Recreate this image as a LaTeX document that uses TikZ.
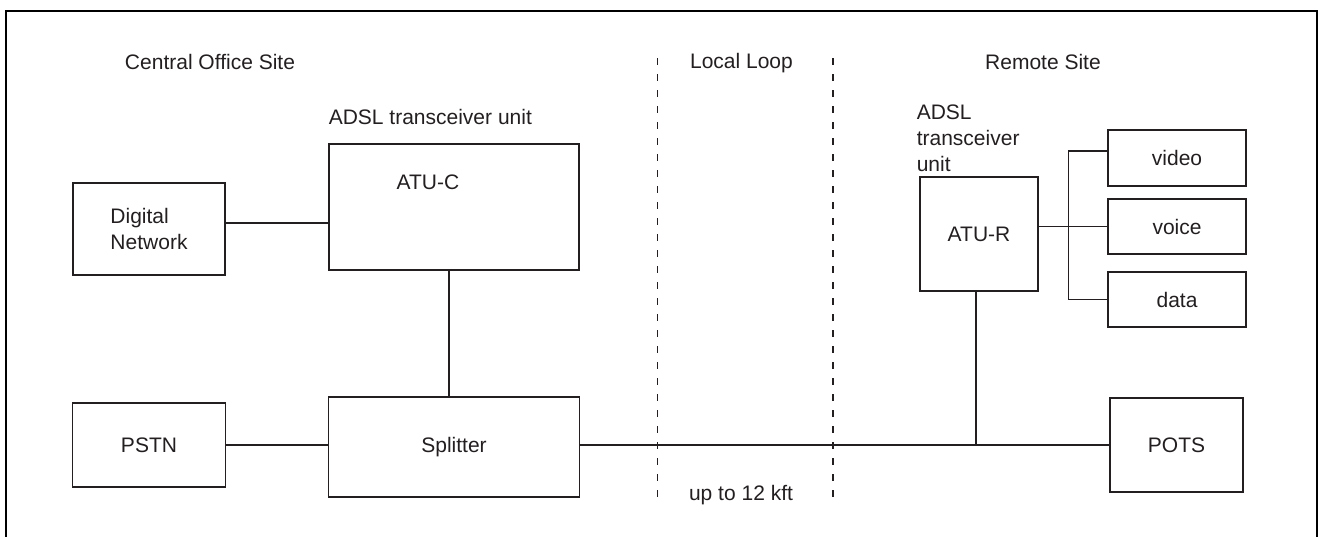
\documentclass[tikz,border=0pt]{standalone}
\usepackage{fontspec}
\setmainfont{Liberation Sans}
\usepackage{tikz}
\usetikzlibrary{shapes.geometric, arrows, positioning}
\definecolor{ink}{HTML}{231F20}
\tikzstyle{block} = [rectangle, draw=ink, line width=0.6pt, text=ink,
 align=center, inner sep=0pt]
\tikzstyle{wire} = [draw=ink, line width=0.6pt]
\tikzstyle{loopedge} = [draw=ink, line width=0.6pt, dash pattern=on 3.5pt off 4.5pt]
\tikzstyle{tag} = [text=ink, inner sep=0pt]
\tikzstyle{sheet} = [draw=black, line width=1pt]

\begin{document}
\begin{tikzpicture}[node distance=152.5pt, font=\fontsize{10.5}{13}\selectfont]
\useasboundingbox (0,0) rectangle (660.5pt,-268pt);
\draw[sheet] (3pt,-280pt) -- (3pt,-5.5pt) -- (658.5pt,-5.5pt) -- (658.5pt,-280pt);
\node(dn) [block, minimum width=76pt, minimum height=46pt, align=left] at (74.5pt,-114.5pt) {Digital\\Network};
\node(atuc) [block, minimum width=125pt, minimum height=63pt, right of=dn, yshift=11pt] {};
\node(atuctext) [tag, xshift=-13pt, yshift=12.5pt] at (atuc) {ATU-C};
\node(pstn) [block, minimum width=76.5pt, minimum height=42pt, below of=dn, node distance=108pt] {PSTN};
\node(splitter) [block, minimum width=125.5pt, minimum height=50pt, right of=pstn, yshift=-1pt] {Splitter};
\node(pots) [block, minimum width=66.5pt, minimum height=47pt, right of=splitter, xshift=208.75pt, yshift=1pt] {POTS};
\node(atur) [block, minimum width=59pt, minimum height=57pt, right of=atuc, xshift=110pt, yshift=-13.5pt] {ATU-R};
\node(voice) [block, minimum width=69pt, minimum height=27.5pt, right of=atur, xshift=-53.5pt, yshift=3.75pt] {voice};
\node(video) [block, minimum width=69pt, minimum height=28pt, above of=voice, node distance=34.25pt] {video};
\node(data) [block, minimum width=69pt, minimum height=27.5pt, below of=voice, node distance=36.5pt] {data};
\node(cosite) [tag] at (105pt,-31pt) {Central Office Site};
\node(llsite) [tag] at (370.75pt,-31.5pt) {Local Loop};
\node(rsite) [tag] at (521.5pt,-31pt) {Remote Site};
\node(reach) [tag] at (370.5pt,-247.5pt) {up to 12 kft};
\node(atuclabel) [tag, anchor=base west] at ([yshift=9.5pt]atuc.north west) {ADSL transceiver unit};
\node(aturlabel) [tag, anchor=south west, align=left] at ([xshift=-1.5pt, yshift=2pt]atur.north west) {ADSL\\transceiver\\unit};
\coordinate (lla) at (328.85pt,-29pt);
\coordinate (llb) at (328.85pt,-249pt);
\coordinate (rla) at (416.5pt,-29pt);
\coordinate (rlb) at (416.5pt,-249pt);
\draw[loopedge] (lla) -- (llb);
\draw[loopedge] (rla) -- (rlb);
\draw[wire] ([yshift=3pt]dn.east) -- ([yshift=3pt]dn.east -| atuc.west);
\draw[wire] ([xshift=-2.5pt]atuc.south) -- ([xshift=-2.5pt]atuc.south |- splitter.north);
\draw[wire] (pstn.east) -- (pstn.east -| splitter.west);
\draw[wire] (splitter.east |- pots.west) -- (pots.west);
\draw[wire] ([xshift=-1.5pt]atur.south) -- ([xshift=-1.5pt]atur.south |- pots.west);
\draw[wire] (voice.west) -- (voice.west -| atur.east);
\draw[wire] ([yshift=3.5pt]video.west) -- ++(-19.5pt,0) |- (data.west);
\end{tikzpicture}
\end{document}
